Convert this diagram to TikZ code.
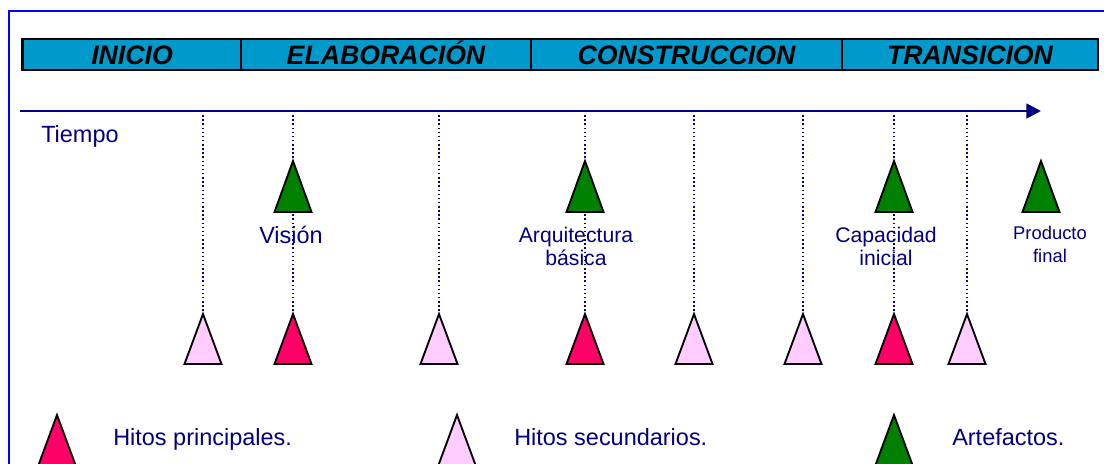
\documentclass[tikz,border=0pt]{standalone}
\usepackage{fontspec}
\setmainfont{Liberation Sans}
\usetikzlibrary{arrows.meta}

\definecolor{marco}{RGB}{0,0,255}
\definecolor{azulfase}{RGB}{0,153,204}
\definecolor{marino}{RGB}{0,0,128}
\definecolor{rosa}{RGB}{255,204,255}
\definecolor{fucsia}{RGB}{255,0,102}
\definecolor{verde}{RGB}{0,128,0}

\tikzset{
  fase/.style={draw=black, fill=azulfase, line width=1.9pt},
  fasetxt/.style={anchor=base, inner sep=0pt, font=\fontsize{20}{24}\selectfont\bfseries\itshape},
  eje/.style={draw=marino, line width=2pt, -{Triangle[length=11pt,width=11pt]}},
  guia/.style={draw=marino, line width=1.1pt, dotted},
  principal/.style={draw=black, fill=fucsia, line width=1.4pt, line join=miter},
  secundario/.style={draw=black, fill=rosa, line width=1.4pt, line join=miter},
  artefacto/.style={draw=black, fill=verde, line width=1.4pt, line join=miter},
  etiqueta/.style={text=marino, inner sep=0pt, font=\fontsize{17.6}{21}\selectfont},
  rotulo/.style={text=marino, inner sep=0pt, align=center, anchor=north, font=\fontsize{15.9}{17.3}\selectfont}
}

\begin{document}
\begin{tikzpicture}[x=0.75pt,y=0.75pt,yscale=-1,xscale=1]
    \useasboundingbox (0,0) rectangle (1104,464);

    %Frame
    \draw [draw=marco, line width=1.5pt] (9,11) rectangle (1114,476);

    %Phases bar
    \draw [fase] (22.7,39) rectangle (241,70);
    \draw [fase] (241,39) rectangle (531,70);
    \draw [fase] (531,39) rectangle (842,70);
    \draw [fase] (842,39) rectangle (1098,70);
    % Text Node
    \node [fasetxt] (inicio) at (132,64) {INICIO};
    % Text Node
    \node [fasetxt] (elaboracion) at (386,64) {ELABORACIÓN};
    % Text Node
    \node [fasetxt] (construccion) at (686.5,64) {CONSTRUCCION};
    % Text Node
    \node [fasetxt] (transicion) at (970,64) {TRANSICION};

    %Time axis
    \coordinate (t0) at (20,111);
    \coordinate (tf) at (1041,111);
    \draw [eje] (t0) -- (tf);
    % Text Node
    \node [etiqueta, anchor=base west] (tiempo) at (41,142) {Tiempo};

    %Milestones on the axis
    \coordinate (t1) at (203,111);  \coordinate (h1) at (203,314);
    \coordinate (t2) at (293,111);  \coordinate (h2) at (293,314);
    \coordinate (t3) at (439,111);  \coordinate (h3) at (439,314);
    \coordinate (t4) at (585,111);  \coordinate (h4) at (585,314);
    \coordinate (t5) at (694,111);  \coordinate (h5) at (694,314);
    \coordinate (t6) at (803,111);  \coordinate (h6) at (803,314);
    \coordinate (t7) at (894,111);  \coordinate (h7) at (894,314);
    \coordinate (t8) at (967,111);  \coordinate (h8) at (967,314);
    \draw [guia] (t1) -- (h1);
    \draw [guia] (t2) -- (h2);
    \draw [guia] (t3) -- (h3);
    \draw [guia] (t4) -- (h4);
    \draw [guia] (t5) -- (h5);
    \draw [guia] (t6) -- (h6);
    \draw [guia] (t7) -- (h7);
    \draw [guia] (t8) -- (h8);

    %Shape: Triangles under the axis
    \draw [secundario] (184.5,364) -- (h1) -- (221.5,364) -- cycle;
    \draw [principal]  (274.5,364) -- (h2) -- (311.5,364) -- cycle;
    \draw [secundario] (420.5,364) -- (h3) -- (457.5,364) -- cycle;
    \draw [principal]  (566.5,364) -- (h4) -- (603.5,364) -- cycle;
    \draw [secundario] (675.5,364) -- (h5) -- (712.5,364) -- cycle;
    \draw [secundario] (784.5,364) -- (h6) -- (821.5,364) -- cycle;
    \draw [principal]  (875.5,364) -- (h7) -- (912.5,364) -- cycle;
    \draw [secundario] (948.5,364) -- (h8) -- (985.5,364) -- cycle;

    %Shape: Artefacts
    \draw [artefacto] (274.5,212) -- (293,161) coordinate (a1) -- (311.5,212) -- cycle;
    \draw [artefacto] (566.5,212) -- (585,161) coordinate (a2) -- (603.5,212) -- cycle;
    \draw [artefacto] (875.5,212) -- (894,161) coordinate (a3) -- (912.5,212) -- cycle;
    \draw [artefacto] (1022.5,212) -- (1041,161) coordinate (a4) -- (1059.5,212) -- cycle;

    % Text Node
    \node [etiqueta, anchor=base] (vision) at (291,243) {Visión};
    % Text Node
    \node [rotulo] (arquitectura) at (576,227) {Arquitectura\\básica};
    % Text Node
    \node [rotulo] (capacidad) at (886,227) {Capacidad\\inicial};
    % Text Node
    \node [rotulo, font=\fontsize{13.8}{17.5}\selectfont] (producto) at (1050,226) {Producto\\final};

    %Legend
    \draw [principal]  (38.5,465) -- (57,415) coordinate (l1) -- (75.5,465) -- cycle;
    \draw [secundario] (438.5,465) -- (457,415) coordinate (l2) -- (475.5,465) -- cycle;
    \draw [artefacto]  (875.5,465) -- (894,415) coordinate (l3) -- (912.5,465) -- cycle;
    % Text Node
    \node [etiqueta, anchor=base west] (principales) at (113,445) {Hitos principales.};
    % Text Node
    \node [etiqueta, anchor=base west] (secundarios) at (514,445) {Hitos secundarios.};
    % Text Node
    \node [etiqueta, anchor=base west] (artefactos) at (952,445) {Artefactos.};

\end{tikzpicture}
\end{document}
